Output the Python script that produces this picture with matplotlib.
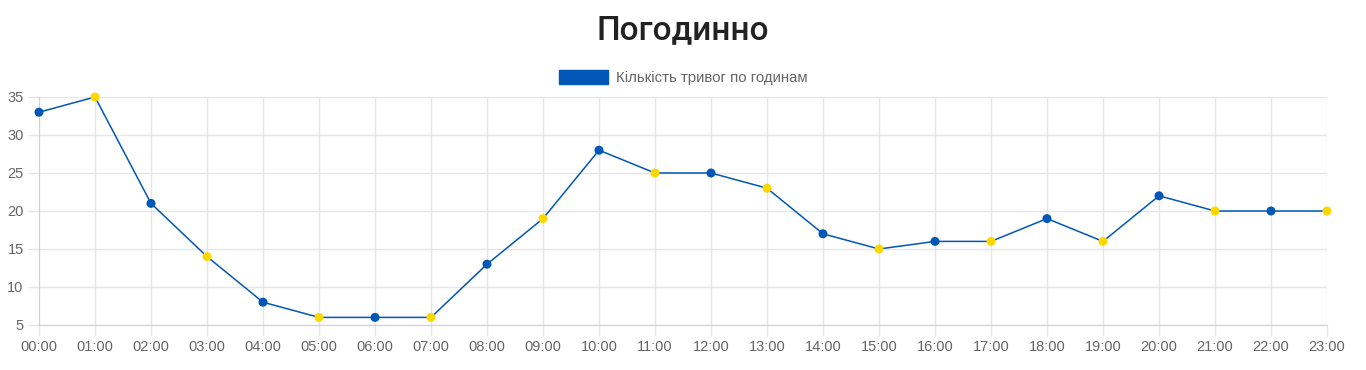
import numpy as np
import matplotlib.pyplot as plt
from matplotlib.patches import Patch

hours = ['%02d:00' % h for h in range(24)]
alerts = [33, 35, 21, 14, 8, 6, 6, 6, 13, 19, 28, 25, 25, 23, 17, 15, 16, 16, 19, 16, 22, 20, 20, 20]
label = 'Кількість тривог по годинам'
title = 'Погодинно'

blue = '#0057B8'
yellow = '#FFD700'
grid_c = '#e6e6e6'
text_c = '#666666'

plt.rcParams['font.family'] = ['Liberation Sans', 'DejaVu Sans']

fig = plt.figure(figsize=(13.66, 3.7), dpi=100)
ax = fig.add_axes([39 / 1366, 1 - 325 / 370, (1327 - 39) / 1366, (325 - 97) / 370])

x = np.arange(len(alerts))
colors = [blue if i % 2 == 0 else yellow for i in x]
ax.plot(x, alerts, color=blue, lw=1.1, zorder=3, clip_on=False)
ax.scatter(x, alerts, c=colors, s=42, zorder=4, clip_on=False, linewidths=0)

ax.set_xlim(0, 23)
ax.set_ylim(5, 35)
ax.set_xticks(x)
ax.set_xticklabels(hours)
ax.set_yticks(range(5, 36, 5))
ax.grid(True, color=grid_c, lw=1)
ax.set_axisbelow(True)
for s in ['top', 'right']:
    ax.spines[s].set_visible(False)
ax.spines['left'].set_color('#d0d0d0')
ax.spines['bottom'].set_color('#d0d0d0')
ax.tick_params(axis='both', colors=grid_c, labelcolor=text_c, labelsize=10.5, length=8, width=1, pad=3)

fig.text(0.5, 0.918, title, ha='center', va='center', fontsize=24, color='#222222',
         family=['Roboto', 'DejaVu Sans'], weight='medium')
h = Patch(facecolor=blue, edgecolor=blue)
fig.legend([h], [label], loc='center', bbox_to_anchor=(0.5, 0.79), frameon=False,
           fontsize=10.8, labelcolor=text_c, handlelength=3.3, handleheight=1.0, handletextpad=0.5)

fig.savefig('out.png', dpi=100)
